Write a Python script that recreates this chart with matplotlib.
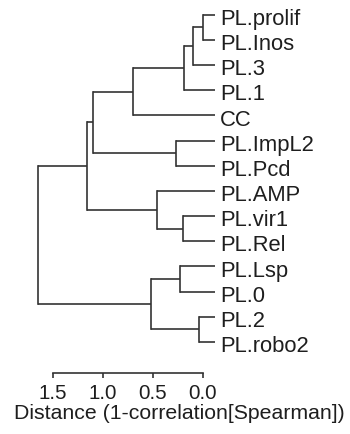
import matplotlib
matplotlib.use("Agg")
from matplotlib import pyplot as plt

plt.rcParams["font.family"] = ["Liberation Sans", "DejaVu Sans"]

# leaves from top to bottom
leaves = ["PL.prolif", "PL.Inos", "PL.3", "PL.1", "CC", "PL.ImpL2", "PL.Pcd",
          "PL.AMP", "PL.vir1", "PL.Rel", "PL.Lsp", "PL.0", "PL.2", "PL.robo2"]

# merges: ids 0..13 are leaves, merge k gets id 14+k
merge_a = [0, 14, 15, 16, 5, 17, 8, 7, 19, 10, 12, 23, 22]
merge_b = [1, 2, 3, 4, 6, 18, 9, 20, 21, 11, 13, 24, 25]
merge_h = [0.0, 0.10, 0.19, 0.70, 0.27, 1.10, 0.20, 0.46, 1.16, 0.23, 0.04, 0.52, 1.65]

ticks = [1.5, 1.0, 0.5, 0.0]
tick_labels = ["1.5", "1.0", "0.5", "0.0"]

leaf_tip = -0.115
line_col = "#333333"
text_col = "#1e1e1e"

fig = plt.figure(figsize=(3.5, 4.35), dpi=100)
W, H = 350, 435
ax = fig.add_axes([30 / W, 1 - 350 / H, 184.5 / W, 345 / H])

n = len(leaves)
ypos = {i: float(i) for i in range(n)}
xpos = {i: leaf_tip for i in range(n)}

for k, (a, b, h) in enumerate(zip(merge_a, merge_b, merge_h)):
    node = n + k
    ya, yb = ypos[a], ypos[b]
    ax.plot([h, h], [ya, yb], color=line_col, lw=1.2, solid_capstyle="projecting")
    ax.plot([h, xpos[a]], [ya, ya], color=line_col, lw=1.2, solid_capstyle="butt")
    ax.plot([h, xpos[b]], [yb, yb], color=line_col, lw=1.2, solid_capstyle="butt")
    ypos[node] = (ya + yb) / 2
    xpos[node] = h

for i, name in enumerate(leaves):
    ax.annotate(name, (leaf_tip, i), xytext=(4, -6.6), textcoords="offset points",
                va="baseline", ha="left", fontsize=15.8, color=text_col,
                annotation_clip=False)

ax.set_xlim(1.728, leaf_tip)
ax.set_ylim(13.28, -0.425)

for s in ["top", "right", "left"]:
    ax.spines[s].set_visible(False)
ax.spines["bottom"].set_position(("outward", 17.3))
ax.spines["bottom"].set_bounds(0.0, 1.5)
ax.spines["bottom"].set_color(line_col)
ax.spines["bottom"].set_linewidth(1.2)
ax.set_yticks([])
ax.set_xticks(ticks)
ax.set_xticklabels(tick_labels)
ax.tick_params(axis="x", direction="out", length=3.6, width=1.2, color=line_col,
               labelsize=14.8, labelcolor=text_col, pad=3.5)
ax.set_xlabel("Distance (1-correlation[Spearman])", fontsize=15.3, color=text_col)
ax.xaxis.set_label_coords((179.5 - 30) / 184.5, -0.157)

fig.savefig("out.png", dpi=100)
